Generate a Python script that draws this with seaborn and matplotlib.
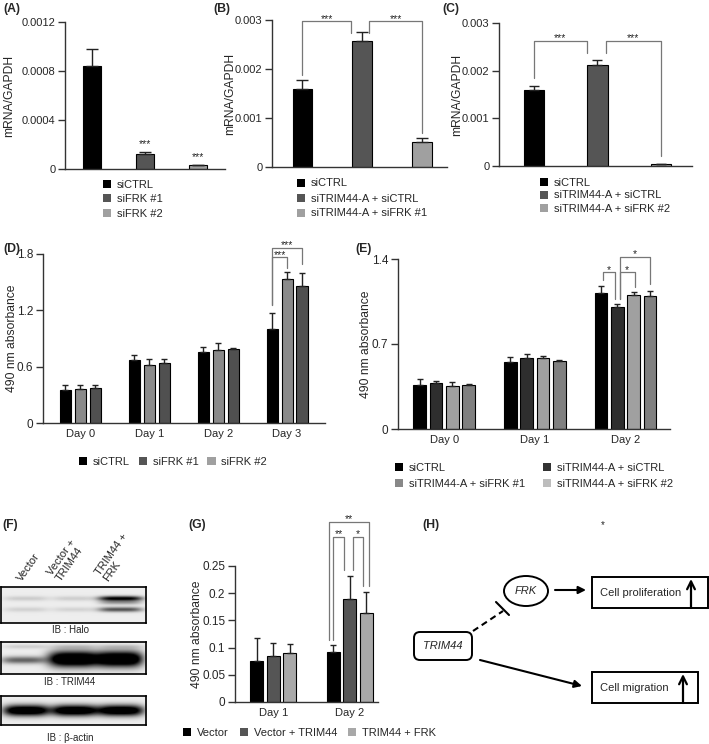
import numpy as np
import pandas as pd
import matplotlib
matplotlib.use('Agg')
import matplotlib.pyplot as plt
from matplotlib.patches import Patch, Rectangle, Ellipse, FancyBboxPatch
import seaborn as sns

W, H = 709, 744

# (A) qPCR FRK knockdown
a_groups = ['siCTRL', 'siFRK #1', 'siFRK #2']
a_mean = [0.00084, 0.00012, 0.00003]
a_err = [0.00014, 0.00002, 0.000006]
a_colors = ['#000000', '#555555', '#a0a0a0']

# (B)
b_groups = ['siCTRL', 'siTRIM44-A + siCTRL', 'siTRIM44-A + siFRK #1']
b_mean = [0.00159, 0.00257, 0.00052]
b_err = [0.00018, 0.00019, 0.00007]
b_colors = ['#000000', '#555555', '#a0a0a0']

# (C)
c_groups = ['siCTRL', 'siTRIM44-A + siCTRL', 'siTRIM44-A + siFRK #2']
c_mean = [0.00160, 0.00212, 0.000035]
c_err = [0.00008, 0.00011, 0.000014]
c_colors = ['#000000', '#555555', '#a0a0a0']

# (D) proliferation, FRK knockdown
d_days = ['Day 0', 'Day 1', 'Day 2', 'Day 3']
d_groups = ['siCTRL', 'siFRK #1', 'siFRK #2']
d_mean = [[0.356, 0.669, 0.758, 0.997],
          [0.367, 0.620, 0.780, 1.538],
          [0.377, 0.644, 0.787, 1.464]]
d_err = [[0.054, 0.051, 0.050, 0.171],
         [0.033, 0.057, 0.071, 0.075],
         [0.023, 0.033, 0.007, 0.138]]
d_bar_colors = ['#000000', '#8a8a8a', '#505050']
d_leg_colors = ['#000000', '#555555', '#a0a0a0']

# (E)
e_days = ['Day 0', 'Day 1', 'Day 2']
e_groups = ['siCTRL', 'siTRIM44-A + siCTRL', 'siTRIM44-A + siFRK #1', 'siTRIM44-A + siFRK #2']
e_mean = [[0.362, 0.555, 1.117],
          [0.376, 0.587, 1.007],
          [0.357, 0.582, 1.104],
          [0.362, 0.557, 1.095]]
e_err = [[0.050, 0.038, 0.058],
         [0.017, 0.033, 0.020],
         [0.033, 0.016, 0.024],
         [0.011, 0.011, 0.044]]
e_bar_colors = ['#000000', '#2e2e2e', '#a0a0a0', '#808080']
e_leg_colors = ['#000000', '#333333', '#888888', '#bdbdbd']

# (G)
g_days = ['Day 1', 'Day 2']
g_groups = ['Vector', 'Vector + TRIM44', 'TRIM44 + FRK']
g_mean = [[0.076, 0.091],
          [0.085, 0.190],
          [0.090, 0.164]]
g_err = [[0.041, 0.013],
         [0.023, 0.041],
         [0.017, 0.039]]
g_colors = ['#000000', '#555555', '#a8a8a8']

# (F) western blot lanes and band strengths
f_lanes = ['Vector', 'Vector +\nTRIM44', 'TRIM44 +\nFRK']
halo_upper = [0.13, 0.12, 0.95]
halo_lower = [0.11, 0.10, 0.60]
trim44_band = [0.55, 1.0, 1.0]
actin_band = [0.95, 0.95, 0.95]

# significance brackets: x1, x2, top, left leg end, right leg end, label
b_brackets = [(0, 0.81, 0.00297, 0.00188, 0.00273, '***'),
              (1.12, 2.0, 0.00297, 0.00273, 0.00069, '***')]
c_brackets = [(0, 0.83, 0.00263, 0.00184, 0.00237, '***'),
              (1.13, 2.0, 0.00263, 0.00237, 0.00020, '***')]
d_brackets = [(2.783, 3.217, 1.862, 1.257, 1.695, '***'),
              (2.783, 3.0, 1.763, 1.257, 1.656, '***')]
e_brackets = [(1.75, 1.88, 1.29, 1.23, 1.07, '*'),
              (1.935, 2.10, 1.29, 1.07, 1.17, '*'),
              (1.935, 2.27, 1.416, 1.07, 1.194, '*')]
g_brackets = [(0.735, 1.252, 0.3317, 0.1136, 0.213, '**'),
              (0.787, 0.926, 0.3028, 0.1136, 0.2426, '**'),
              (1.04, 1.17, 0.3028, 0.2426, 0.213, '*')]

sns.set_style('white')
plt.rcParams['font.family'] = ['Liberation Sans', 'DejaVu Sans']
plt.rcParams['font.size'] = 8.5

fig = plt.figure(figsize=(W / 100, H / 100), dpi=100)


def px_axes(l, t, r, b):
    return fig.add_axes([l / W, 1 - b / H, (r - l) / W, (b - t) / H])


def style(ax, l, r, ylim, yticks, ylabels, ylabel, label_x, xlim, tsize=8.5):
    ax.set_xlim(*xlim)
    ax.set_ylim(*ylim)
    ax.set_yticks(yticks, ylabels)
    sns.despine(ax=ax)
    for s in ['left', 'bottom']:
        ax.spines[s].set_color('#333333')
        ax.spines[s].set_linewidth(1)
    ax.tick_params(axis='y', left=True, length=5, width=1, color='#333333', labelsize=tsize, pad=2)
    ax.tick_params(axis='x', bottom=False, length=0, labelsize=8, pad=4)
    ax.set_xlabel('')
    ax.set_ylabel(ylabel, fontsize=8.7)
    ax.yaxis.set_label_coords((label_x - l) / (r - l), 0.5)


def add_err(ax, means, errs, capsize):
    conts = list(ax.containers)
    for k, cont in enumerate(conts):
        bars = sorted(cont, key=lambda p: p.get_x())
        xs = [p.get_x() + p.get_width() / 2 for p in bars]
        m = np.array(means[k])
        e = np.array(errs[k])
        ax.errorbar(xs, m, yerr=[np.zeros(len(xs)), e], fmt='none', ecolor='#222222',
                    elinewidth=1, capsize=capsize, capthick=1)


def add_brackets(ax, brackets, fs=7.5):
    for x1, x2, top, y1, y2, txt in brackets:
        ax.plot([x1, x1, x2, x2], [y1, top, top, y2], color='#777777', lw=0.9, clip_on=False)
        ax.annotate(txt, ((x1 + x2) / 2, top), xytext=(0, 2), textcoords='offset points',
                    ha='center', va='center', fontsize=fs, annotation_clip=False)


def add_legend(ax, names, colors, x, y, ncol=1, spacing=0.3, colsp=1.0):
    handles = [Patch(facecolor=c, edgecolor='none') for c in colors]
    ax.legend(handles, names, loc='upper left', bbox_to_anchor=(x / W, 1 - y / H),
              bbox_transform=fig.transFigure, ncol=ncol, frameon=False, fontsize=8,
              handlelength=0.75, handleheight=0.75, handletextpad=0.5, borderpad=0,
              borderaxespad=0, labelspacing=spacing, columnspacing=colsp)


def simple_panel(box, groups, mean, err, colors, width, ylim, yticks, ylabels, label_x, xlim, capsize):
    l, t, r, b = box
    ax = px_axes(l, t, r, b)
    df = pd.DataFrame({'group': groups, 'value': mean})
    sns.barplot(data=df, x='group', y='value', hue='group', order=groups, hue_order=groups,
                palette=colors, width=width, errorbar=None, edgecolor='black', linewidth=0.8,
                legend=False, ax=ax)
    add_err(ax, [[m] for m in mean], [[e] for e in err], capsize)
    style(ax, l, r, ylim, yticks, ylabels, 'mRNA/GAPDH', label_x, xlim, tsize=8)
    ax.set_xticks([])
    return ax


def group_panel(box, days, groups, mean, err, colors, width, gap, ylim, yticks, ylabels, label_x, xlim, capsize):
    l, t, r, b = box
    ax = px_axes(l, t, r, b)
    rows = []
    for gi, g in enumerate(groups):
        for di, d in enumerate(days):
            rows.append({'day': d, 'group': g, 'value': mean[gi][di]})
    df = pd.DataFrame(rows)
    sns.barplot(data=df, x='day', y='value', hue='group', order=days, hue_order=groups,
                palette=colors, width=width, gap=gap, errorbar=None, edgecolor='black',
                linewidth=0.8, legend=False, ax=ax)
    add_err(ax, mean, err, capsize)
    style(ax, l, r, ylim, yticks, ylabels, '490 nm absorbance', label_x, xlim)
    return ax


# ---- A ----
axA = simple_panel((65, 22, 225, 169), a_groups, a_mean, a_err, a_colors, 0.34,
                   (0, 0.0012), [0, 0.0004, 0.0008, 0.0012], ['0', '0.0004', '0.0008', '0.0012'],
                   15.5, (-0.51, 2.51), 4.3)
for i in [1, 2]:
    axA.annotate('***', (i, a_mean[i] + a_err[i]), xytext=(0, 5.5), textcoords='offset points',
                 ha='center', va='center', fontsize=7.5)
add_legend(axA, a_groups, a_colors, 103, 179.5, spacing=0.42)

# ---- B ----
axB = simple_panel((272, 20, 447, 167), b_groups, b_mean, b_err, b_colors, 0.33,
                   (0, 0.003), [0, 0.001, 0.002, 0.003], ['0', '0.001', '0.002', '0.003'],
                   236, (-0.51, 2.42), 4.3)
add_brackets(axB, b_brackets)
add_legend(axB, b_groups, b_colors, 297, 178.5, spacing=0.45)

# ---- C ----
axC = simple_panel((499, 23, 692, 166), c_groups, c_mean, c_err, c_colors, 0.32,
                   (0, 0.003), [0, 0.001, 0.002, 0.003], ['0', '0.001', '0.002', '0.003'],
                   463, (-0.55, 2.49), 3.6)
add_brackets(axC, c_brackets)
add_legend(axC, c_groups, c_colors, 540, 177.5, spacing=0.27)

# ---- D ----
axD = group_panel((43, 254, 325, 423), d_days, d_groups, d_mean, d_err, d_bar_colors, 0.65, 0.26,
                  (0, 1.8), [0, 0.6, 1.2, 1.8], ['0', '0.6', '1.2', '1.8'], 18, (-0.54, 3.55), 2.2)
add_brackets(axD, d_brackets)
add_legend(axD, d_groups, d_leg_colors, 79, 457, ncol=3, colsp=0.8)

# ---- E ----
axE = group_panel((398, 259, 670, 429), e_days, e_groups, e_mean, e_err, e_bar_colors, 0.72, 0.22,
                  (0, 1.4), [0, 0.7, 1.4], ['0', '0.7', '1.4'], 372, (-0.51, 2.49), 2.2)
add_brackets(axE, e_brackets)
e_order = [0, 2, 1, 3]
add_legend(axE, [e_groups[i] for i in e_order], [e_leg_colors[i] for i in e_order],
           395, 463, ncol=2, spacing=0.5, colsp=1.6)

# ---- G ----
axG = group_panel((235, 566, 378, 702), g_days, g_groups, g_mean, g_err, g_colors, 0.65, 0.2,
                  (0, 0.25), [0, 0.05, 0.1, 0.15, 0.2, 0.25],
                  ['0', '0.05', '0.1', '0.15', '0.2', '0.25'], 203.5, (-0.5, 1.37), 2.2)
add_brackets(axG, g_brackets)
add_legend(axG, g_groups, g_colors, 183, 728, ncol=3, colsp=1.0)

# ---- F : western blots ----
def blot_image(h, w, bands, bg=0.07):
    yy, xx = np.mgrid[0:h, 0:w]
    img = np.full((h, w), bg, dtype=float)
    for cx, cy, hw, hh, amp in bands:
        img += amp * np.exp(-((xx - cx) / hw) ** 4 - ((yy - cy) / hh) ** 2)
    return np.clip(img, 0, 1)


lane_x = [25, 73, 119]
halo = blot_image(36, 146, [(lane_x[i], 11, 22, 2.5, halo_upper[i]) for i in range(3)] +
                  [(lane_x[i], 22, 22, 2.5, halo_lower[i]) for i in range(3)] +
                  [(lane_x[2], 15, 21, 2.2, 0.3)])
trim = blot_image(32, 146, [(lane_x[0] - 3, 18, 22, 3.5, trim44_band[0]),
                            (lane_x[1], 17, 26, 7.5, trim44_band[1] * 1.4),
                            (lane_x[2], 17, 22, 7.5, trim44_band[2] * 1.4)] +
                  [(lane_x[i], 5, 22, 2.0, 0.12) for i in range(3)])
actin = blot_image(29, 146, [(lane_x[i], 14, 23, 5.5, actin_band[i] * 1.3) for i in range(3)])

for img, (t, b), lab, ly in [(halo, (587, 623), 'IB : Halo', 630),
                             (trim, (642, 674), 'IB : TRIM44', 682),
                             (actin, (696, 725), 'IB : β-actin', 738)]:
    axb = px_axes(0.5, t, 146, b)
    axb.imshow(img, cmap='gray_r', vmin=0, vmax=1, aspect='auto', interpolation='bilinear')
    axb.set_xticks([])
    axb.set_yticks([])
    for s in axb.spines.values():
        s.set_visible(True)
        s.set_color('black')
        s.set_linewidth(1.2)
    fig.text(70 / W, 1 - ly / H, lab, ha='center', va='center', fontsize=7)

# ---- overlay for labels and (H) diagram ----
ov = fig.add_axes([0, 0, 1, 1], zorder=10)
ov.set_xlim(0, W)
ov.set_ylim(H, 0)
ov.axis('off')
ov.patch.set_alpha(0)

for txt, x, y in [('(A)', 3, 3), ('(B)', 213, 3), ('(C)', 442, 3), ('(D)', 3, 243),
                  ('(E)', 355, 243), ('(F)', 2, 519), ('(G)', 188, 519), ('(H)', 422, 519)]:
    ov.text(x, y, txt, ha='left', va='top', fontsize=8.8, fontweight='bold')
ov.text(603, 525, '*', ha='center', va='center', fontsize=7)

for lab, x in zip(f_lanes, [24, 62, 110]):
    ov.text(x, 583, lab, rotation=55, rotation_mode='anchor', ha='left', va='bottom',
            fontsize=8, linespacing=1.0)

# (H) pathway diagram
ov.add_patch(FancyBboxPatch((414, 632), 58, 28, boxstyle='round,pad=0,rounding_size=6',
                            fill=False, ec='black', lw=1.4))
ov.text(443, 646, 'TRIM44', ha='center', va='center', fontsize=8, style='italic')
ov.add_patch(Ellipse((526, 591), 44, 30, fill=False, ec='black', lw=1.4))
ov.text(526, 591, 'FRK', ha='center', va='center', fontsize=8, style='italic')
ov.add_patch(Rectangle((592, 577), 116, 31, fill=False, ec='black', lw=1.4))
ov.text(600, 593, 'Cell proliferation', ha='left', va='center', fontsize=8)
ov.add_patch(Rectangle((592, 672), 106, 31, fill=False, ec='black', lw=1.4))
ov.text(600, 688, 'Cell migration', ha='left', va='center', fontsize=8)
arrow = dict(arrowstyle='-|>', color='black', lw=1.5, mutation_scale=11, shrinkA=0, shrinkB=0)
ov.annotate('', xy=(586, 590), xytext=(555, 590), arrowprops=arrow)
ov.annotate('', xy=(582, 686), xytext=(480, 660), arrowprops=arrow)
up = dict(arrowstyle='->', color='black', lw=1.6, mutation_scale=14, shrinkA=0, shrinkB=0)
ov.annotate('', xy=(691, 579), xytext=(691, 608), arrowprops=up)
ov.annotate('', xy=(683, 674), xytext=(683, 703), arrowprops=up)
ov.plot([473, 503], [631, 611], color='black', lw=1.5, ls=(0, (3, 2)))
ov.plot([496, 509], [602, 615], color='black', lw=1.5)

fig.savefig('out.png', dpi=100)
